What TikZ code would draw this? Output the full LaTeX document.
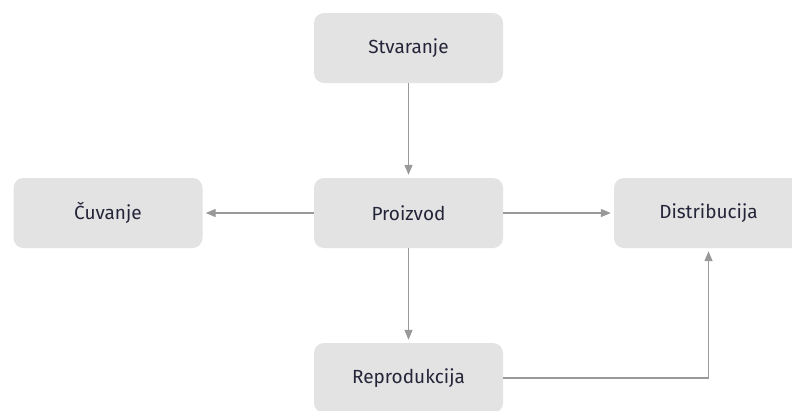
\documentclass[tikz,border=0pt]{standalone}
\usepackage{fontspec}
\setmainfont{Fira Sans}
\usetikzlibrary{arrows.meta,positioning}
\tikzset{
  stage/.style={fill=boxgray,rounded corners=10pt,minimum width=189pt,minimum height=70pt,
    inner sep=0pt,font=\fontsize{19}{22}\selectfont,text=textdark},
  flow/.style={draw=arrowgray,line width=1.3pt,shorten >=3pt,
    -{Triangle[length=10pt,width=8pt]}}
}
\definecolor{boxgray}{HTML}{E3E3E3}
\definecolor{arrowgray}{HTML}{999999}
\definecolor{textdark}{HTML}{25253A}
\begin{document}
\begin{tikzpicture}[x=1pt,y=-1pt]
		\clip (0,0) rectangle (792,410);
		\fill[white] (0,0) rectangle (792,410);
		\node[stage] (stvaranje) at (408.5,48) {Stvaranje};
		\node[stage] (proizvod) at (408.5,213) {Proizvod};
		\node[stage] (cuvanje) at (108,213) {Čuvanje};
		\node[stage] (distribucija) at (708.5,213) {Distribucija};
		\node[stage] (reprodukcija) at (408.5,378) {Reprodukcija};
		\draw[flow] (stvaranje) -- (proizvod);
		\draw[flow] (proizvod) -- (cuvanje);
		\draw[flow] (proizvod) -- (distribucija);
		\draw[flow] (proizvod) -- (reprodukcija);
		\draw[flow] (reprodukcija.east) -| (distribucija.south);
		\end{tikzpicture}
\end{document}
